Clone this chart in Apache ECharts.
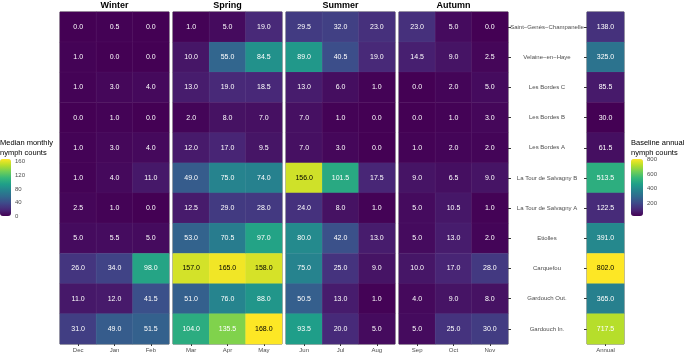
<!DOCTYPE html>
<html>
<head>
<meta charset="utf-8">
<script src="https://cdn.jsdelivr.net/npm/echarts@6/dist/echarts.min.js"></script>
<style>
  html, body { margin: 0; padding: 0; background: #fff; }
  #chart { width: 685px; height: 354px; }
</style>
</head>
<body>
<div id="chart"></div>
<script>
const sites = [
    "Saint−Genès−Champanelle", "Velaine−en−Haye", "Les Bordes C", "Les Bordes B",
    "Les Bordes A", "La Tour de Salvagny B", "La Tour de Salvagny A", "Etiolles",
    "Carquefou", "Gardouch Out.", "Gardouch In."
];

const seasons = ["Winter", "Spring", "Summer", "Autumn"];
const seasonMonths = [["Dec", "Jan", "Feb"], ["Mar", "Apr", "May"], ["Jun", "Jul", "Aug"], ["Sep", "Oct", "Nov"]];

// median monthly counts, one array per month, sites top to bottom
const Dec = [0.0, 1.0, 1.0, 0.0, 1.0, 1.0, 2.5, 5.0, 26.0, 11.0, 31.0];
const Jan = [0.5, 0.0, 3.0, 1.0, 3.0, 4.0, 1.0, 5.5, 34.0, 12.0, 49.0];
const Feb = [0.0, 0.0, 4.0, 0.0, 4.0, 11.0, 0.0, 5.0, 98.0, 41.5, 51.5];
const Mar = [1.0, 10.0, 13.0, 2.0, 12.0, 49.0, 12.5, 53.0, 157.0, 51.0, 104.0];
const Apr = [5.0, 55.0, 19.0, 8.0, 17.0, 75.0, 29.0, 70.5, 165.0, 76.0, 135.5];
const May = [19.0, 84.5, 18.5, 7.0, 9.5, 74.0, 28.0, 97.0, 158.0, 88.0, 168.0];
const Jun = [29.5, 89.0, 13.0, 7.0, 7.0, 156.0, 24.0, 80.0, 75.0, 50.5, 93.5];
const Jul = [32.0, 40.5, 6.0, 1.0, 3.0, 101.5, 8.0, 42.0, 25.0, 13.0, 20.0];
const Aug = [23.0, 19.0, 1.0, 0.0, 0.0, 17.5, 1.0, 13.0, 9.0, 1.0, 5.0];
const Sep = [23.0, 14.5, 0.0, 0.0, 1.0, 9.0, 5.0, 5.0, 10.0, 4.0, 5.0];
const Oct = [5.0, 9.0, 2.0, 1.0, 2.0, 6.5, 10.5, 13.0, 17.0, 9.0, 25.0];
const Nov = [0.0, 2.5, 5.0, 3.0, 2.0, 9.0, 1.0, 2.0, 28.0, 8.0, 30.0];
const annual = [138.0, 325.0, 85.5, 30.0, 61.5, 513.5, 122.5, 391.0, 802.0, 365.0, 717.5];

const monthly = { Dec, Jan, Feb, Mar, Apr, May, Jun, Jul, Aug, Sep, Oct, Nov };

const monthlyTicks = [0, 40, 80, 120, 160];
const annualTicks = [200, 400, 600, 800];

const viridis = ['#440154', '#482878', '#3e4989', '#31688e', '#26828e',
                 '#1f9e89', '#35b779', '#6ece58', '#b5de2b', '#fde725'];

const FONT = "'Liberation Sans', Arial, sans-serif";

const panelLeft = [60, 173, 286, 399];
const panelW = 109;
const panelTop = 12, panelH = 332;

const chart = echarts.init(document.getElementById('chart'));

const grids = [], xAxes = [], yAxes = [], series = [], titles = [];

// cell text turns dark on the brightest tiles
function cell(x, y, v, limit) {
    return { value: [x, y, v], label: { color: v >= limit ? '#000' : '#fff' } };
}

const cellLabel = {
    show: true, fontSize: 7, fontFamily: FONT,
    formatter: p => p.value[2].toFixed(1)
};

seasons.forEach((s, k) => {
    grids.push({ left: panelLeft[k], top: panelTop, width: panelW, height: panelH,
                 show: true, borderColor: '#5f5f5f', borderWidth: 1, backgroundColor: 'transparent' });
    xAxes.push({
        type: 'category', gridIndex: k, data: seasonMonths[k], position: 'bottom',
        axisLine: { show: false },
        axisTick: { show: true, length: 2, alignWithLabel: true, lineStyle: { color: '#333' } },
        axisLabel: { fontSize: 6, color: '#4d4d4d', margin: 3, fontFamily: FONT },
        splitLine: { show: false }
    });
    yAxes.push({
        type: 'category', gridIndex: k, data: sites, inverse: true,
        position: k === 3 ? 'right' : 'left',
        axisLine: { show: false },
        axisTick: { show: k === 3, length: 3, alignWithLabel: true, lineStyle: { color: '#333' } },
        axisLabel: { show: false },
        splitLine: { show: false }
    });
    const data = [];
    seasonMonths[k].forEach((m, j) => {
        monthly[m].forEach((v, i) => data.push(cell(j, i, v, 150)));
    });
    series.push({
        type: 'heatmap', xAxisIndex: k, yAxisIndex: k, data: data,
        itemStyle: { borderColor: 'rgba(255,255,255,0.07)', borderWidth: 0.5 },
        label: cellLabel,
        emphasis: { disabled: true }
    });
    titles.push({
        text: s, left: panelLeft[k] + panelW / 2, top: 1, textAlign: 'center', padding: 0,
        textStyle: { fontSize: 9, fontWeight: 'bold', color: '#000', fontFamily: FONT }
    });
});

// annual panel
grids.push({ left: 587, top: panelTop, width: 37, height: panelH,
             show: true, borderColor: '#5f5f5f', borderWidth: 1 });
xAxes.push({
    type: 'category', gridIndex: 4, data: ['Annual'],
    axisLine: { show: false },
    axisTick: { show: true, length: 2, alignWithLabel: true, lineStyle: { color: '#333' } },
    axisLabel: { fontSize: 6, color: '#4d4d4d', margin: 3, fontFamily: FONT }
});
yAxes.push({
    type: 'category', gridIndex: 4, data: sites, inverse: true, position: 'left',
    axisLine: { show: false },
    axisTick: { show: true, length: 3, alignWithLabel: true, lineStyle: { color: '#333' } },
    axisLabel: { fontSize: 6, color: '#4d4d4d', align: 'center', margin: 40, fontFamily: FONT }
});
series.push({
    type: 'heatmap', xAxisIndex: 4, yAxisIndex: 4,
    data: annual.map((v, i) => cell(0, i, v, 780)),
    itemStyle: { borderColor: 'rgba(255,255,255,0.07)', borderWidth: 0.5 },
    label: cellLabel,
    emphasis: { disabled: true }
});

// legend tick axes (grids 5 and 6), white ticks on both edges of each bar
grids.push({ left: 0, top: 159, width: 11, height: 57 });
grids.push({ left: 631, top: 159, width: 12, height: 57 });
[[5, 0, 168, monthlyTicks], [6, 30, 802, annualTicks]].forEach(([g, mn, mx, ticks]) => {
    xAxes.push({ type: 'value', gridIndex: g, show: false });
    ['right', 'left'].forEach(side => {
        yAxes.push({
            type: 'value', gridIndex: g, min: mn, max: mx, position: side,
            axisLine: { show: false },
            axisTick: { show: true, inside: true, length: 2, customValues: ticks, lineStyle: { color: '#fff' } },
            axisLabel: { show: side === 'right', fontSize: 6, color: '#4d4d4d', margin: 4, customValues: ticks, fontFamily: FONT },
            splitLine: { show: false }
        });
    });
});

titles.push({
    text: 'Median monthly\nnymph counts', left: 0, top: 138, padding: 0,
    textStyle: { fontSize: 7.5, fontWeight: 'normal', color: '#000', lineHeight: 10, fontFamily: FONT }
});
titles.push({
    text: 'Baseline annual\nnymph counts', left: 631, top: 138, padding: 0,
    textStyle: { fontSize: 7.5, fontWeight: 'normal', color: '#000', lineHeight: 10, fontFamily: FONT }
});

chart.setOption({
    backgroundColor: '#fff',
    animation: false,
    title: titles,
    grid: grids,
    xAxis: xAxes,
    yAxis: yAxes,
    visualMap: [
        {
            type: 'continuous', min: 0, max: 168, seriesIndex: [0, 1, 2, 3],
            inRange: { color: viridis }, calculable: false, orient: 'vertical',
            left: 0, top: 159, itemWidth: 11, itemHeight: 57, padding: 0, text: null, z: 1
        },
        {
            type: 'continuous', min: 30, max: 802, seriesIndex: 4,
            inRange: { color: viridis }, calculable: false, orient: 'vertical',
            left: 631, top: 159, itemWidth: 12, itemHeight: 57, padding: 0, text: null, z: 1
        }
    ],
    series: series
});
</script>
</body>
</html>
